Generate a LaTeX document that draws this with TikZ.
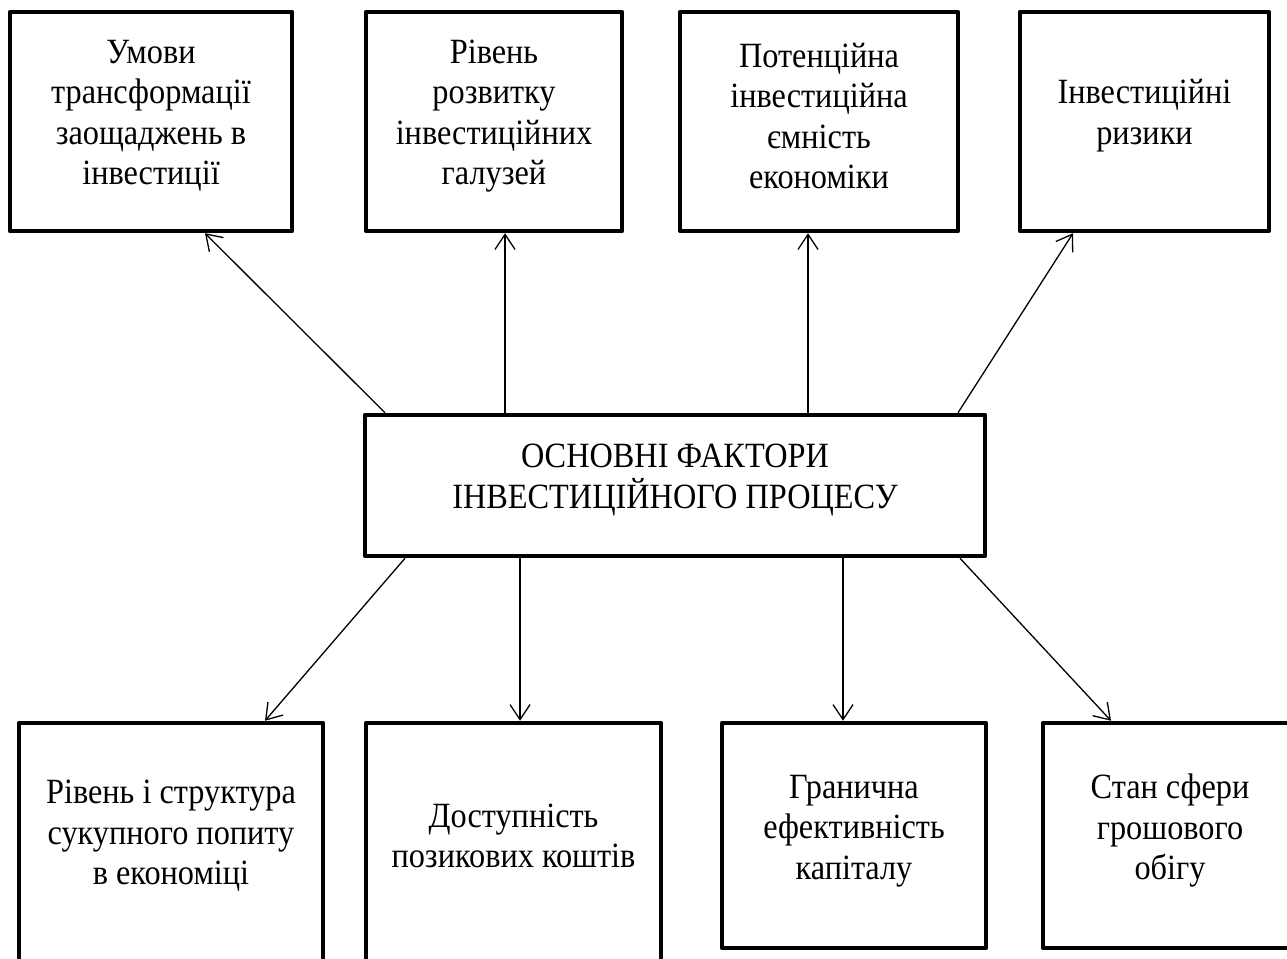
\documentclass[tikz,border=0pt]{standalone}
\usepackage{fontspec}
\setmainfont{Liberation Serif}[FakeStretch=0.91]
\usetikzlibrary{arrows.meta,calc}
\tikzset{
  box/.style={draw=black, line width=4.5pt, line join=round, fill=none, inner sep=0pt},
  txt/.style={align=center, inner sep=0pt, font=\fontsize{35.5}{40.5}\selectfont},
  arr/.style={line width=1.3pt, -{Straight Barb[length=15pt,width=20pt,line width=1.3pt]}}
}
\begin{document}
\begin{tikzpicture}[x=1pt,y=-1pt]
\useasboundingbox (0,0) rectangle (1287,958);
\fill[white] (0,0) rectangle (1287,958);
\clip (0,0) rectangle (1287,958);
% top boxes
\node[box, minimum width=282pt, minimum height=219pt] (b1) at (151,121.5) {};
\node[box, minimum width=256pt, minimum height=219pt] (b2) at (494,121.5) {};
\node[box, minimum width=278pt, minimum height=219pt] (b3) at (819,121.5) {};
\node[box, minimum width=249pt, minimum height=219pt] (b4) at (1144.5,121.5) {};
% centre
\node[box, minimum width=620pt, minimum height=141pt] (c) at (675,485.5) {};
% bottom boxes
\node[box, minimum width=304pt, minimum height=257pt] (b5) at (171,851.5) {};
\node[box, minimum width=295pt, minimum height=257pt] (b6) at (513.5,851.5) {};
\node[box, minimum width=264pt, minimum height=225pt] (b7) at (854,835.5) {};
\node[box, minimum width=254pt, minimum height=225pt] (b8) at (1170,835.5) {};
% texts
\node[txt] (t1) at (151,116) {Умови\\трансформації\\заощаджень в\\інвестиції};
\node[txt] (t2) at (494,116) {Рівень\\розвитку\\інвестиційних\\галузей};
\node[txt] (t3) at (819,116) {Потенційна\\інвестиційна\\ємність\\економіки};
\node[txt] (t4) at (1144.5,115.5) {Інвестиційні\\ризики};
\node[txt] (tc) at (675,480) {ОСНОВНІ ФАКТОРИ\\ІНВЕСТИЦІЙНОГО ПРОЦЕСУ};
\node[txt] (t5) at (171,836) {Рівень і структура\\сукупного попиту\\в економіці};
\node[txt] (t6) at (513.5,836) {Доступність\\позикових коштів};
\node[txt] (t7) at (854,831) {Гранична\\ефективність\\капіталу};
\node[txt] (t8) at (1170,831) {Стан сфери\\грошового\\обігу};
% connectors
\draw[arr] ($(c.north)+(-290,0)$) -- ($(b1.south)+(54,0)$);
\draw[arr] ($(c.north)+(-170,0)$) -- ($(b2.south)+(11,0)$);
\draw[arr] ($(c.north)+(133,0)$) -- ($(b3.south)+(-11,0)$);
\draw[arr] ($(c.north)+(283,0)$) -- ($(b4.south)+(-71.5,0)$);
\draw[arr] ($(c.south)+(-270,0)$) -- ($(b5.north)+(94,0)$);
\draw[arr] ($(c.south)+(-155,0)$) -- ($(b6.north)+(6.5,0)$);
\draw[arr] ($(c.south)+(168,0)$) -- ($(b7.north)+(-11,0)$);
\draw[arr] ($(c.south)+(285,0)$) -- ($(b8.north)+(-59,0)$);
\end{tikzpicture}
\end{document}
